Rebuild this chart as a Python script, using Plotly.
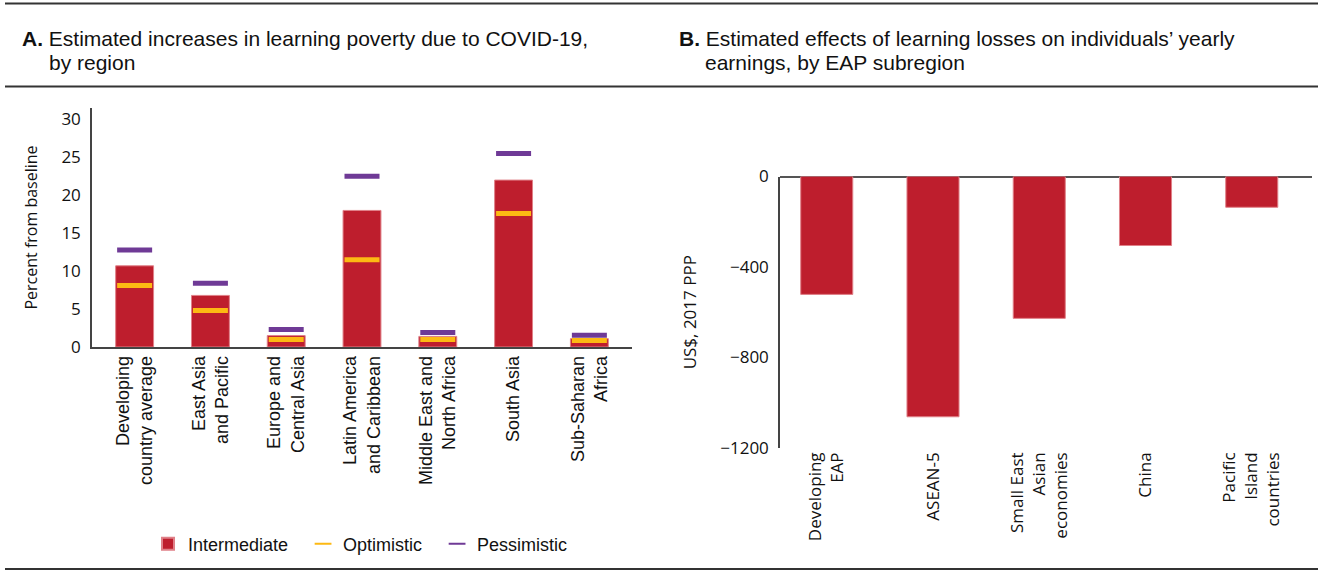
import plotly.graph_objects as go
from plotly.subplots import make_subplots

# Panel A data
regions = [
    "Developing<br>country average", "East Asia<br>and Pacific", "Europe and<br>Central Asia",
    "Latin America<br>and Caribbean", "Middle East and<br>North Africa", "South Asia",
    "Sub-Saharan<br>Africa",
]
intermediate = [10.7, 6.8, 1.5, 18.0, 1.4, 22.0, 1.1]
optimistic = [8.1, 4.8, 1.0, 11.5, 1.0, 17.6, 0.85]
pessimistic = [12.8, 8.4, 2.3, 22.5, 1.9, 25.5, 1.55]

# Panel B data
subregions = ["Developing<br>EAP", "ASEAN-5", "Small East<br>Asian<br>economies", "China",
              "Pacific<br>Island<br>countries"]
earnings = [-521, -1062, -627, -305, -136]

RED = "#BE1E2D"
YELLOW = "#FDB913"
PURPLE = "#6F3A96"
NARROW = "Liberation Sans Narrow, Arial Narrow, sans-serif"
SANS = "Open Sans, Noto Sans, sans-serif"
INK = "#111"

W, H = 1318, 571
NB = "\u00a0\u00a0"

fig = make_subplots(rows=1, cols=2)

fig.add_trace(go.Bar(x=regions, y=intermediate, name="Intermediate" + NB, marker_color=RED,
                     marker_line=dict(color="#E08088", width=1), width=0.5), row=1, col=1)
fig.add_trace(go.Scatter(x=regions, y=optimistic, name="Optimistic" + NB, mode="markers",
                         marker=dict(symbol="line-ew", size=25, line=dict(color=YELLOW, width=5))),
              row=1, col=1)
fig.add_trace(go.Scatter(x=regions, y=pessimistic, name="Pessimistic", mode="markers",
                         marker=dict(symbol="line-ew", size=25, line=dict(color=PURPLE, width=5))),
              row=1, col=1)

fig.add_trace(go.Bar(x=subregions, y=earnings, showlegend=False, marker_color=RED,
                     marker_line=dict(color="#E08088", width=1), width=0.49), row=1, col=2)

fig.update_layout(
    width=W, height=H,
    margin=dict(l=0, r=0, t=0, b=0, autoexpand=False),
    plot_bgcolor="white", paper_bgcolor="white",
    legend=dict(orientation="h", x=148 / W, y=1 - 544 / H, xanchor="left", yanchor="middle",
                font=dict(family=NARROW, size=18, color=INK), itemwidth=30,
                itemsizing="constant"),
    xaxis=dict(domain=[92 / W, 632 / W], showline=True, linecolor="#444", linewidth=1.5,
               tickangle=-90, tickfont=dict(family=NARROW, size=18, color=INK),
               ticks="", automargin=False),
    yaxis=dict(domain=[(H - 347) / H, (H - 108) / H], range=[0, 31.5], showline=True,
               linecolor="#444", linewidth=1.5, showgrid=False, zeroline=False,
               tickvals=[0, 5, 10, 15, 20, 25, 30], ticks="", ticklabelstandoff=6,
               tickfont=dict(family=SANS, size=17, color=INK), automargin=False,
               title=dict(text="Percent from baseline", standoff=20,
                          font=dict(family=SANS, size=16, color=INK))),
    xaxis2=dict(domain=[780 / W, 1312 / W], range=[-0.44, 4.567], showline=False,
                tickangle=-90, ticks="", automargin=False,
                tickfont=dict(family=SANS, size=17, color=INK)),
    yaxis2=dict(domain=[(H - 448) / H, (H - 176.5) / H], range=[-1200, 0], showline=True,
                linecolor="#444", linewidth=1.5, showgrid=False, zeroline=True,
                zerolinecolor="#555", zerolinewidth=2, tickvals=[0, -400, -800, -1200],
                ticks="", ticklabelstandoff=6, automargin=False,
                tickfont=dict(family=SANS, size=17, color=INK),
                title=dict(text="US$, 2017 PPP", standoff=19,
                           font=dict(family=SANS, size=17, color=INK))),
)

# panel titles, one annotation per line
title_lines = [
    (20, 39, "<b>A.</b> Estimated increases in learning poverty due to COVID-19,"),
    (47, 62, "by region"),
    (677, 39, "<b>B.</b> Estimated effects of learning losses on individuals\u2019 yearly"),
    (703, 62, "earnings, by EAP subregion"),
]
for tx, ty, txt in title_lines:
    fig.add_annotation(x=tx / W, y=1 - ty / H, xref="paper", yref="paper", xanchor="left",
                       yanchor="middle", showarrow=False, text=txt,
                       font=dict(family=NARROW, size=21, color=INK))

# horizontal rules
for yy in [3.5, 86.5, 569]:
    fig.add_shape(type="line", xref="paper", yref="paper", x0=5 / W, x1=1, y0=1 - yy / H,
                  y1=1 - yy / H, line=dict(color="#333", width=2))

fig.write_html("out.html", config={"displayModeBar": False},
               post_script="document.body.style.margin='0';")
